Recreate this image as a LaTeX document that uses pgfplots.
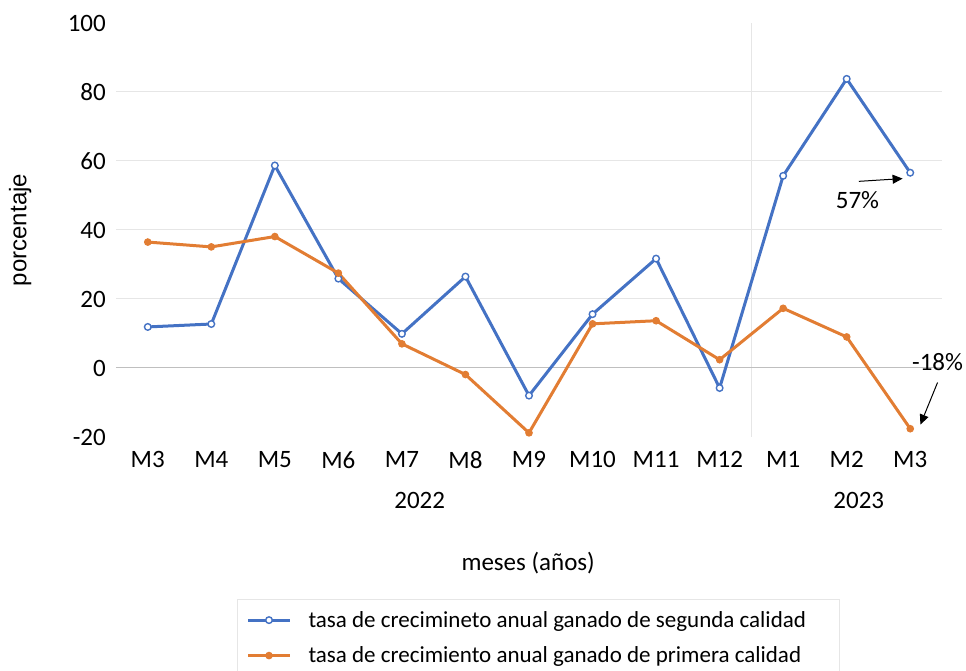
\documentclass[border=0pt]{standalone}
\usepackage{fontspec}
\setmainfont{Carlito}
\newfontfamily\arialfont{Liberation Sans}
\usepackage{pgfplots}
\pgfplotsset{compat=1.18}
\usetikzlibrary{arrows.meta}
\definecolor{xlblue}{HTML}{4472C4}
\definecolor{xlorange}{HTML}{E27D33}
\definecolor{gridgray}{HTML}{E6E6E6}
\definecolor{zerogray}{HTML}{BFBFBF}
\begin{document}
\begin{tikzpicture}
\path[use as bounding box] (0,0) rectangle (966pt,671pt);
\begin{axis}[
  at={(116pt,234pt)}, anchor=south west,
  scale only axis, width=826pt, height=414pt,
  xmin=-0.5, xmax=12.5, ymin=-20, ymax=100,
  clip=false,
  axis line style={draw=none},
  major tick length=0pt,
  xtick={0,...,12},
  xticklabels={M3,M4,M5,M6,M7,M8,M9,M10,M11,M12,M1,M2,M3},
  ytick={-20,0,20,40,60,80,100},
  yticklabels={-20,0,20,40,60,80,100},
  extra y ticks={20,40,60,80},
  extra y tick labels={},
  extra y tick style={ymajorgrids=true, major grid style={gridgray, line width=1pt}},
  tick label style={font=\fontsize{25}{30}\selectfont, inner sep=0pt},
  yticklabel style={xshift=-10pt},
  xticklabel style={yshift=-14pt},
  xlabel={meses (años)},
  xlabel style={at={(axis description cs:0.499,-0.304)}, anchor=center, font=\fontsize{25}{30}\selectfont, inner sep=0pt},
  ylabel={porcentaje},
  ylabel style={at={(axis description cs:-0.116,0.5)}, anchor=center, font=\arialfont\fontsize{24}{28}\selectfont, inner sep=0pt},
  legend style={at={(axis description cs:0.1465,-0.391)}, anchor=north west,
    draw=gridgray, line width=1pt, inner xsep=9pt, inner ysep=10pt,
    font=\fontsize{23}{27}\selectfont, nodes={inner sep=2pt},
    column sep=15pt, row sep=14pt},
  legend cell align=left,
  legend image code/.code={%
    \draw[mark repeat=2,mark phase=2,#1] plot coordinates {(0pt,0pt) (21pt,0pt) (42pt,0pt)};},
]
\draw[gridgray, line width=1pt] (axis cs:9.5,-20) -- (axis cs:9.5,100);
\draw[zerogray, line width=1pt] (axis cs:-0.5,0) -- (axis cs:12.5,0);
\addplot[xlblue, line width=3pt, mark=*, mark size=3.3pt,
  mark options={fill=white, draw=xlblue, line width=1.4pt}]
  coordinates {(0,11.9) (1,12.75) (2,58.7) (3,25.9) (4,9.9) (5,26.5) (6,-8.0)
    (7,15.6) (8,31.7) (9,-5.8) (10,55.7) (11,83.8) (12,56.6)};
\addlegendentry{\makebox[520pt][l]{tasa de crecimineto anual ganado de segunda calidad}}
\addplot[xlorange, line width=3pt, mark=*, mark size=3.3pt,
  mark options={fill=xlorange, draw=xlorange, line width=1pt}]
  coordinates {(0,36.5) (1,35.1) (2,38.1) (3,27.5) (4,7.0) (5,-1.9) (6,-18.8)
    (7,12.8) (8,13.7) (9,2.4) (10,17.3) (11,9.0) (12,-17.6)};
\addlegendentry{\makebox[520pt][l]{tasa de crecimiento anual ganado de primera calidad}}
\node[font=\fontsize{25}{30}\selectfont, inner sep=0pt] at (axis cs:4.28,-38.3) {2022};
\node[font=\fontsize{25}{30}\selectfont, inner sep=0pt] at (axis cs:11.19,-38.3) {2023};
\node[font=\fontsize{25}{30}\selectfont, inner sep=0pt] at (axis cs:11.17,48.8) {57\%};
\node[font=\fontsize{25}{30}\selectfont, inner sep=0pt] at (axis cs:12.43,1.8) {-18\%};
\draw[-{Triangle[length=10pt,width=9pt]}, line width=1pt] (axis cs:11.19,54.1) -- (axis cs:11.88,54.9);
\draw[-{Triangle[length=10pt,width=9pt]}, line width=1pt] (axis cs:12.43,-4.2) -- (axis cs:12.16,-16.4);
\end{axis}
\end{tikzpicture}
\end{document}
